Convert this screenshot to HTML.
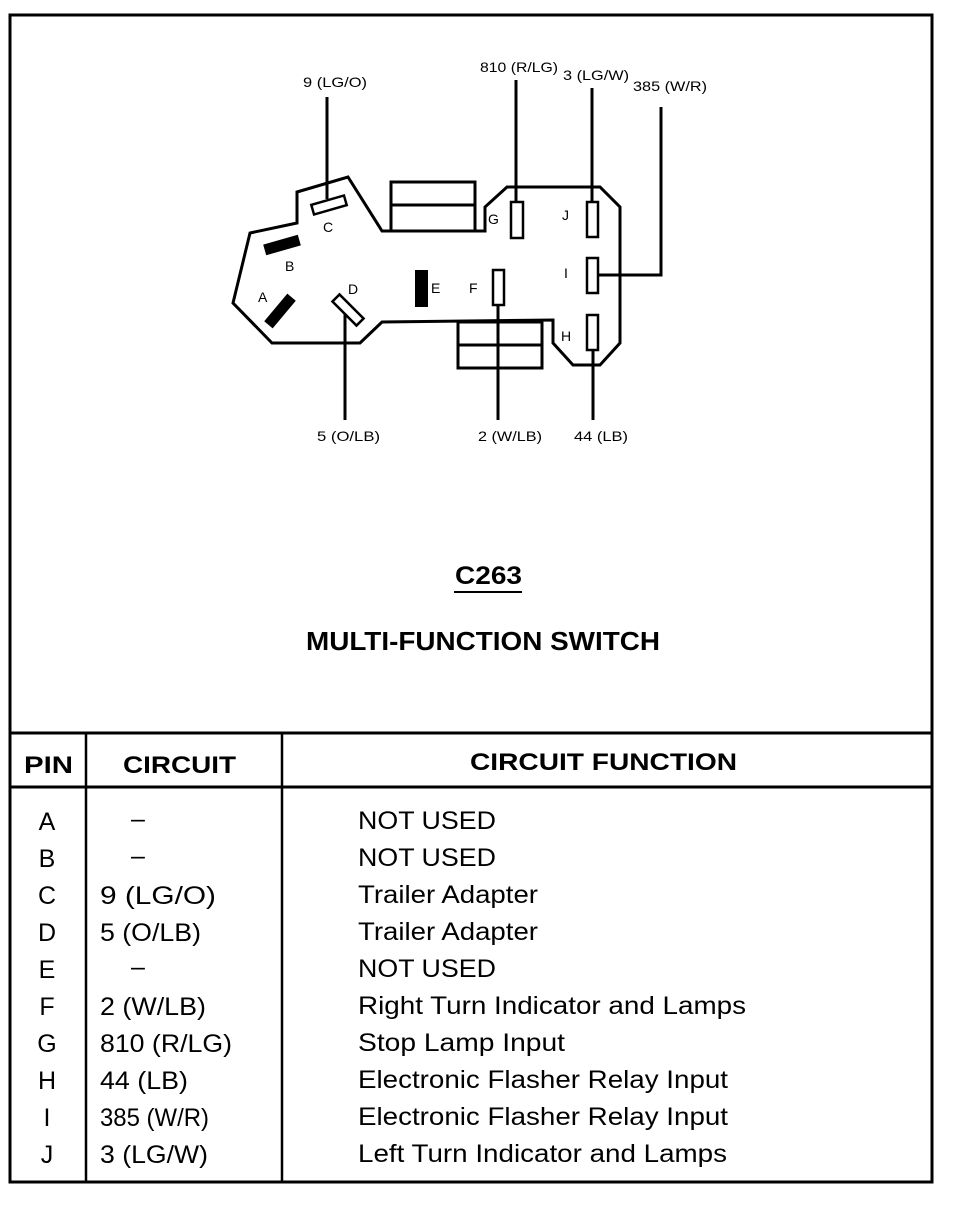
<!DOCTYPE html>
<html><head><meta charset="utf-8"><style>
html,body{margin:0;padding:0;background:#fff;}
svg{display:block;font-family:"Liberation Sans",Arial,sans-serif;}
</style></head><body>
<svg width="954" height="1216" viewBox="0 0 954 1216" xmlns="http://www.w3.org/2000/svg">
<rect x="10" y="15" width="922" height="1167" fill="none" stroke="#000" stroke-width="3"/>
<line x1="10" y1="733" x2="932" y2="733" stroke="#000" stroke-width="3"/>
<line x1="10" y1="787" x2="932" y2="787" stroke="#000" stroke-width="3"/>
<line x1="86" y1="733" x2="86" y2="1182" stroke="#000" stroke-width="2.5"/>
<line x1="282" y1="733" x2="282" y2="1182" stroke="#000" stroke-width="2.5"/>

<g fill="none" stroke="#000" stroke-width="3">
<polygon points="297,192 348,177 382,231 485,231 485,207 507,187 600,187 620,207 620,343 600,365 573,365 553,343 553,320 382,322 360,343 272,343 233,303 250,233 297,223"/>
<rect x="391" y="182" width="84" height="49"/>
<line x1="391" y1="205" x2="475" y2="205"/>
<rect x="458" y="322" width="84" height="46"/>
<line x1="458" y1="345" x2="542" y2="345"/>
<rect x="-17" y="-5" width="34" height="10" transform="translate(329,205) rotate(-16)" stroke-width="2.5"/>
<rect x="-17" y="-5" width="34" height="10" transform="translate(348,310) rotate(45)" stroke-width="2.5"/>
<rect x="493" y="270" width="11" height="35" stroke-width="2.5"/>
<rect x="511" y="202" width="12" height="36" stroke-width="2.5"/>
<rect x="587" y="202" width="11" height="35" stroke-width="2.5"/>
<rect x="587" y="258" width="11" height="35" stroke-width="2.5"/>
<rect x="587" y="315" width="11" height="35" stroke-width="2.5"/>
<line x1="327" y1="97" x2="327" y2="199"/>
<line x1="516" y1="80" x2="516" y2="202"/>
<line x1="592" y1="88" x2="592" y2="202"/>
<polyline points="598,275 661,275 661,107"/>
<line x1="345" y1="314" x2="345" y2="420"/>
<line x1="498" y1="305" x2="498" y2="420"/>
<line x1="593" y1="350" x2="593" y2="420"/>
</g>
<rect x="-18" y="-5.5" width="36" height="11" transform="translate(282,245) rotate(-16)" fill="#000"/>
<rect x="-18" y="-5.5" width="36" height="11" transform="translate(280,311) rotate(-50)" fill="#000"/>
<rect x="415" y="270" width="13" height="37" fill="#000"/>

<g font-size="14" fill="#000">
<text x="303" y="87" textLength="64" lengthAdjust="spacingAndGlyphs">9 (LG/O)</text>
<text x="480" y="72" textLength="78" lengthAdjust="spacingAndGlyphs">810 (R/LG)</text>
<text x="563" y="80" textLength="66" lengthAdjust="spacingAndGlyphs">3 (LG/W)</text>
<text x="633" y="91" textLength="74" lengthAdjust="spacingAndGlyphs">385 (W/R)</text>
<text x="317" y="441" textLength="63" lengthAdjust="spacingAndGlyphs">5 (O/LB)</text>
<text x="478" y="441" textLength="64" lengthAdjust="spacingAndGlyphs">2 (W/LB)</text>
<text x="574" y="441" textLength="54" lengthAdjust="spacingAndGlyphs">44 (LB)</text>
<text x="323" y="232">C</text>
<text x="285" y="271">B</text>
<text x="258" y="302">A</text>
<text x="348" y="294">D</text>
<text x="431" y="293">E</text>
<text x="469" y="293">F</text>
<text x="488" y="224">G</text>
<text x="562" y="220">J</text>
<text x="564" y="278">I</text>
<text x="561" y="341">H</text>
</g>

<text x="455" y="584" font-size="25" font-weight="bold" textLength="67" lengthAdjust="spacingAndGlyphs">C263</text>
<line x1="454" y1="592" x2="522" y2="592" stroke="#000" stroke-width="2"/>
<text x="306" y="650" font-size="26" font-weight="bold" textLength="354" lengthAdjust="spacingAndGlyphs">MULTI-FUNCTION SWITCH</text>

<g font-size="24" font-weight="bold">
<text x="24" y="773" textLength="49" lengthAdjust="spacingAndGlyphs">PIN</text>
<text x="123" y="773" textLength="113" lengthAdjust="spacingAndGlyphs">CIRCUIT</text>
<text x="470" y="770" textLength="267" lengthAdjust="spacingAndGlyphs">CIRCUIT FUNCTION</text>
</g>
<g font-size="25">
<text x="47" y="830" text-anchor="middle">A</text>
<text x="47" y="867" text-anchor="middle">B</text>
<text x="47" y="904" text-anchor="middle">C</text>
<text x="47" y="941" text-anchor="middle">D</text>
<text x="47" y="978" text-anchor="middle">E</text>
<text x="47" y="1015" text-anchor="middle">F</text>
<text x="47" y="1052" text-anchor="middle">G</text>
<text x="47" y="1089" text-anchor="middle">H</text>
<text x="47" y="1126" text-anchor="middle">I</text>
<text x="47" y="1163" text-anchor="middle">J</text>
<text x="131" y="827">–</text>
<text x="131" y="864">–</text>
<text x="100" y="904" textLength="116" lengthAdjust="spacingAndGlyphs">9 (LG/O)</text>
<text x="100" y="941" textLength="101" lengthAdjust="spacingAndGlyphs">5 (O/LB)</text>
<text x="131" y="975">–</text>
<text x="100" y="1015" textLength="106" lengthAdjust="spacingAndGlyphs">2 (W/LB)</text>
<text x="100" y="1052" textLength="132" lengthAdjust="spacingAndGlyphs">810 (R/LG)</text>
<text x="100" y="1089" textLength="88" lengthAdjust="spacingAndGlyphs">44 (LB)</text>
<text x="100" y="1126" textLength="109" lengthAdjust="spacingAndGlyphs">385 (W/R)</text>
<text x="100" y="1163" textLength="108" lengthAdjust="spacingAndGlyphs">3 (LG/W)</text>
<text x="358" y="829" textLength="138" lengthAdjust="spacingAndGlyphs">NOT USED</text>
<text x="358" y="866" textLength="138" lengthAdjust="spacingAndGlyphs">NOT USED</text>
<text x="358" y="903" textLength="180" lengthAdjust="spacingAndGlyphs">Trailer Adapter</text>
<text x="358" y="940" textLength="180" lengthAdjust="spacingAndGlyphs">Trailer Adapter</text>
<text x="358" y="977" textLength="138" lengthAdjust="spacingAndGlyphs">NOT USED</text>
<text x="358" y="1014" textLength="388" lengthAdjust="spacingAndGlyphs">Right Turn Indicator and Lamps</text>
<text x="358" y="1051" textLength="207" lengthAdjust="spacingAndGlyphs">Stop Lamp Input</text>
<text x="358" y="1088" textLength="370" lengthAdjust="spacingAndGlyphs">Electronic Flasher Relay Input</text>
<text x="358" y="1125" textLength="370" lengthAdjust="spacingAndGlyphs">Electronic Flasher Relay Input</text>
<text x="358" y="1162" textLength="369" lengthAdjust="spacingAndGlyphs">Left Turn Indicator and Lamps</text>
</g>
</svg>
</body></html>
